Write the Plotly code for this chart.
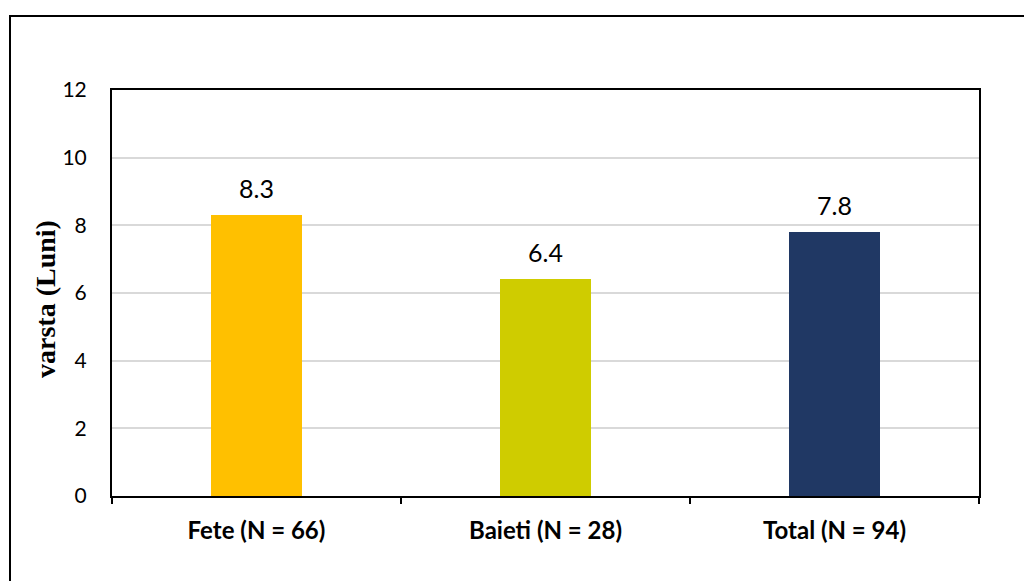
import plotly.graph_objects as go

# Mean age per group
categories = ["Fete (N = 66)", "Baieti (N = 28)", "Total (N = 94)"]
values = [8.3, 6.4, 7.8]
bar_colors = ["#FFC000", "#CFCC00", "#203864"]
y_ticks = [0, 2, 4, 6, 8, 10, 12]

W, H = 1024, 581
L, R, T, B = 112, 45, 90, 85
pw, ph = W - L - R, H - T - B

fig = go.Figure(
    go.Bar(
        x=categories,
        y=values,
        marker=dict(color=bar_colors, line=dict(width=0)),
        width=0.315,
        hoverinfo="skip",
    )
)

# value labels above each bar
for c, v in zip(categories, values):
    fig.add_annotation(
        x=c, y=v, text=f"{v:.1f}", showarrow=False,
        yanchor="bottom", yshift=10,
        font=dict(family="Lato, sans-serif", size=25, color="#000000"),
    )

# y-axis title (vertical, bold serif)
fig.add_annotation(
    xref="paper", yref="paper",
    x=(45 - L) / pw, y=(H - B - 299) / ph,
    text="<b>varsta (Luni)</b>", textangle=-90, showarrow=False,
    xanchor="center", yanchor="middle",
    font=dict(family="Liberation Serif, Times New Roman, serif", size=28, color="#000000"),
)

# outer chart frame
fig.add_shape(
    type="rect", xref="paper", yref="paper",
    x0=(10 - L) / pw, x1=(W + 10 - L) / pw,
    y0=(H - B - (H + 10)) / ph, y1=(H - B - 16) / ph,
    line=dict(color="#000000", width=2), fillcolor="rgba(0,0,0,0)", layer="below",
)

fig.update_layout(
    width=W, height=H,
    margin=dict(l=L, r=R, t=T, b=B, autoexpand=False),
    paper_bgcolor="#ffffff", plot_bgcolor="#ffffff",
    showlegend=False,
    bargap=0,
    xaxis=dict(
        type="category",
        showline=True, linecolor="#000000", linewidth=2, mirror=True,
        ticks="outside", tickson="boundaries", ticklen=6, tickwidth=1.5, tickcolor="#000000",
        showgrid=False,
        tickfont=dict(family="Lato, sans-serif", size=24, color="#000000", weight="bold"),
        ticklabelstandoff=12,
    ),
    yaxis=dict(
        range=[0, 12],
        tickvals=y_ticks,
        showline=True, linecolor="#000000", linewidth=2, mirror=True,
        ticks="",
        showgrid=True, gridcolor="#d9d9d9", gridwidth=1.5,
        zeroline=False,
        tickfont=dict(family="Lato, sans-serif", size=21, color="#000000"),
        ticklabelstandoff=19,
    ),
)

fig.write_html("out.html")
